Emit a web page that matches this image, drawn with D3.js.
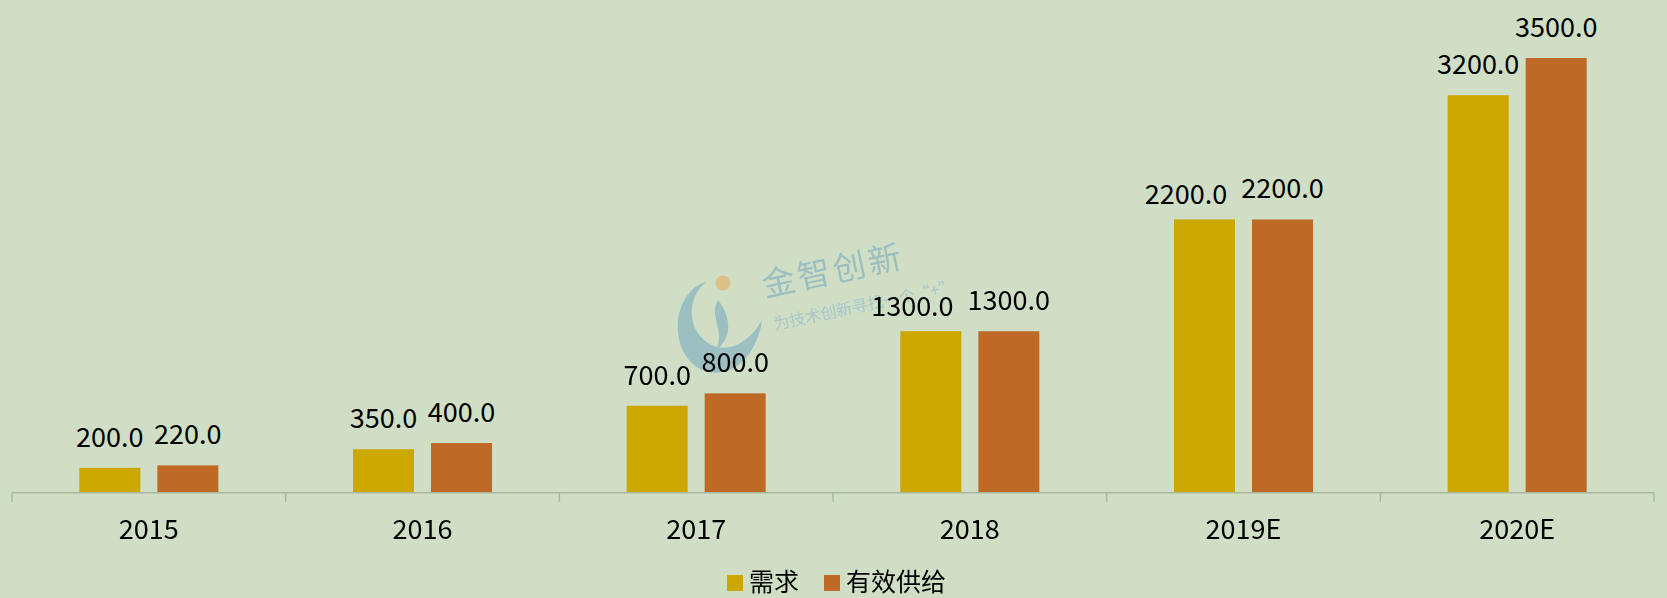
<!DOCTYPE html>
<html><head><meta charset="utf-8">
<script src="https://cdn.jsdelivr.net/npm/d3@7/dist/d3.min.js"></script>
<style>
html,body{margin:0;padding:0;background:#CFDEC4;}
svg{display:block;font-family:"Noto Sans CJK SC","Noto Sans",sans-serif;}
</style></head>
<body>
<svg id="chart" width="1667" height="598"></svg>
<script>
const categories = ["2015","2016","2017","2018","2019E","2020E"];
const seriesNames = ["需求","有效供给"];
const demand = [200,350,700,1300,2200,3200];
const supply = [220,400,800,1300,2200,3500];
const colors = ["#CCA700","#BF6927"];

const W = 1667, H = 598;
const svg = d3.select("#chart");
svg.append("rect").attr("width",W).attr("height",H).attr("fill","#CFDEC4");

const x0 = d3.scaleBand().domain(categories).range([12,1654]).paddingInner(0).paddingOuter(0);
const x1 = d3.scaleBand().domain(seriesNames).range([0,x0.bandwidth()]).paddingInner(17/78).paddingOuter(0.863);
const y = d3.scaleLinear().domain([0,3500]).range([492.7,58]);

// watermark
const wm = svg.append("g").attr("opacity",0.8);
wm.append("path")
  .attr("d","M706,282 C670,292 666,360 708,372 C735,378 758,352 762,320 C750,342 730,352 714,346 C688,336 684,300 706,282 Z")
  .attr("fill","#8FB8C2");
wm.append("path")
  .attr("d","M718,300 C708,316 726,330 716,350 C732,338 732,318 718,300 Z")
  .attr("fill","#8FB8C2");
wm.append("circle").attr("cx",723).attr("cy",283).attr("r",7.5).attr("fill","#E0B878");
wm.append("text").attr("transform","translate(765,297) rotate(-12)")
  .attr("font-size",33).attr("fill","#8FB8C2").attr("letter-spacing",3).text("金智创新");
wm.append("text").attr("transform","translate(775,330) rotate(-12)")
  .attr("font-size",16).attr("fill","#9EC2CC").text("为技术创新寻找一个“+”");

const data = categories.map((c,i)=>({cat:c, vals:[demand[i],supply[i]]}));

const g = svg.append("g");
const groups = g.selectAll("g.cat").data(data).join("g")
  .attr("transform",d=>`translate(${x0(d.cat)},0)`);

groups.selectAll("rect").data(d=>d.vals.map((v,j)=>({s:seriesNames[j],v,j}))).join("rect")
  .attr("x",d=>x1(d.s)).attr("width",x1.bandwidth())
  .attr("y",d=>y(d.v)).attr("height",d=>y(0)-y(d.v))
  .attr("fill",d=>colors[d.j]);

groups.each(function(){
  const grp = d3.select(this);
  const labels = grp.selectAll("text.lbl").data(d=>d.vals.map((v,j)=>({s:seriesNames[j],v,j}))).join("text")
    .attr("class","lbl")
    .attr("x",d=>x1(d.s)+x1.bandwidth()/2).attr("y",d=>y(d.v)-21)
    .attr("text-anchor","middle").attr("font-size",27).attr("fill","#000")
    .text(d=>d.v.toFixed(1));
  // avoid overlap like the original: nudge the left label left/down when needed
  const nodes = labels.nodes();
  const s0 = d3.select(nodes[0]), s1 = d3.select(nodes[1]);
  const xa = +s0.attr("x"), xb = +s1.attr("x");
  const ya = +s0.attr("y"), yb = +s1.attr("y");
  const wa = nodes[0].getComputedTextLength(), wb = nodes[1].getComputedTextLength();
  const gap = (xb - wb/2) - (xa + wa/2);
  if (Math.abs(ya - yb) < 20 && gap < 8) {
    const shift = 14 - gap;
    s0.attr("x", xa - shift).attr("y", ya + shift*0.3);
  }
});

// axis
const axisG = svg.append("g");
axisG.append("line").attr("x1",12).attr("x2",1654).attr("y1",y(0)).attr("y2",y(0))
  .attr("stroke","#A9B7A0").attr("stroke-width",1.5);
const ticksX = categories.map(c=>x0(c)).concat([x0.range()[1]]);
axisG.selectAll("line.tick").data(ticksX).join("line").attr("class","tick")
  .attr("x1",d=>d).attr("x2",d=>d).attr("y1",y(0)).attr("y2",y(0)+9)
  .attr("stroke","#A9B7A0").attr("stroke-width",1.5);
axisG.selectAll("text.cat").data(categories).join("text").attr("class","cat")
  .attr("x",d=>x0(d)+x0.bandwidth()/2).attr("y",539)
  .attr("text-anchor","middle").attr("font-size",27).attr("fill","#000")
  .text(d=>d);

// legend
const legend = svg.append("g");
const legendX = [727,824];
seriesNames.forEach((s,i)=>{
  legend.append("rect").attr("x",legendX[i]).attr("y",575).attr("width",16).attr("height",16).attr("fill",colors[i]);
  legend.append("text").attr("x",legendX[i]+22).attr("y",591).attr("font-size",25).attr("fill","#000").text(s);
});
</script>
</body></html>
